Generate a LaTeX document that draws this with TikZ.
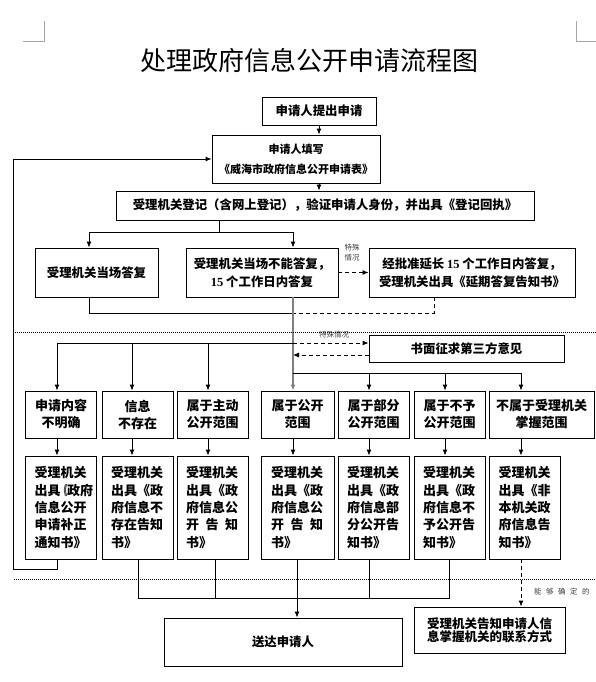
\documentclass[tikz,border=0pt]{standalone}
\usepackage{fontspec}
\usepackage{graphicx}
\newfontfamily\cjk{Noto Sans CJK SC}
\newfontfamily\numfont{Liberation Serif}
\usetikzlibrary{arrows.meta}
\tikzset{
  box/.style={draw=black, line width=0.9pt, inner sep=0pt, align=center, font=\cjk\bfseries\fontsize{12.4}{18}\selectfont},
  catbox/.style={box, minimum width=71, minimum height=47, font=\cjk\bfseries\fontsize{13}{17}\selectfont},
  resbox/.style={box, minimum width=71, minimum height=103, text width=53, align=left, font=\cjk\bfseries\fontsize{13}{17.3}\selectfont},
  titletext/.style={font=\cjk\fontsize{26}{30}\selectfont},
  smalllabel/.style={font=\cjk\fontsize{7.5}{10}\selectfont, text=black!75, inner sep=0pt},
  link/.style={draw=black, line width=0.9pt},
  arr/.style={link, -{Latex[length=6pt,width=5pt]}},
  dasharr/.style={arr, dash pattern=on 4pt off 3pt},
  mainline/.style={arr, draw=black!50, line width=1.4pt},
  sepline/.style={draw=black, line width=0.8pt, dash pattern=on 1pt off 1pt},
  cropmark/.style={draw=black!35, line width=0.8pt},
}

\begin{document}
\begin{tikzpicture}[x=1pt, y=-1pt]
\useasboundingbox (0,0) rectangle (596,682);
\node[titletext] (title) at (309,61) {处理政府信息公开申请流程图};
\node[box, minimum width=114, minimum height=28] (submit) at (319,111) {申请人提出申请};
\node[box, minimum width=168, minimum height=48, font=\cjk\bfseries\fontsize{11}{20}\selectfont] (fillform) at (296,159) {申请人填写\\《威海市政府信息公开申请表》};
\node[box, minimum width=418, minimum height=29] (register) at (325,205.5) {受理机关登记（含网上登记），验证申请人身份，并出具《登记回执》};
\node[box, minimum width=123, minimum height=49] (onsite) at (96.5,272.5) {受理机关当场答复};
\node[box, minimum width=152, minimum height=49] (later) at (262,272.5) {受理机关当场不能答复，\\{\numfont 15} 个工作日内答复};
\node[box, minimum width=206, minimum height=49] (extend) at (472,272.5) {经批准延长 {\numfont 15} 个工作日内答复，\\受理机关出具《延期答复告知书》};
\node[smalllabel, align=left] (special1) at (352,253) {特殊\\情况};
\node[box, minimum width=195, minimum height=27] (thirdparty) at (466.5,348.5) {书面征求第三方意见};
\node[smalllabel] (special2) at (334,335) {特殊情况};
\node[catbox] (cat1) at (61,414.5) {申请内容\\不明确};
\node[catbox] (cat2) at (137.5,414.5) {信息\\不存在};
\node[catbox] (cat3) at (212.5,414.5) {属于主动\\公开范围};
\node[catbox, minimum width=73] (cat4) at (297.5,414.5) {属于公开\\范围};
\node[catbox] (cat5) at (373.5,414.5) {属于部分\\公开范围};
\node[catbox] (cat6) at (449.5,414.5) {属于不予\\公开范围};
\node[catbox, minimum width=105] (cat7) at (541.5,414.5) {不属于受理机关\\掌握范围};
\node[resbox] (res1) at (61,507.5) {受理机关\\出具\scalebox{0.5}[1]{《}政府\\信息公开\\申请补正\\通知书》};
\node[resbox] (res2) at (137.5,507.5) {受理机关\\出具《政\\府信息不\\存在告知\\书》};
\node[resbox] (res3) at (212.5,507.5) {受理机关\\出具《政\\府信息公\\\makebox[4em][s]{开\hfill 告\hfill 知}\\书》};
\node[resbox, minimum width=73] (res4) at (297.5,507.5) {受理机关\\出具《政\\府信息公\\\makebox[4em][s]{开\hfill 告\hfill 知}\\书》};
\node[resbox] (res5) at (373.5,507.5) {受理机关\\出具《政\\府信息部\\分公开告\\知书》};
\node[resbox] (res6) at (449.5,507.5) {受理机关\\出具《政\\府信息不\\予公开告\\知书》};
\node[resbox] (res7) at (525,507.5) {受理机关\\出具《非\\本机关政\\府信息告\\知书》};
\node[box, minimum width=238, minimum height=48] (deliver) at (283,642) {送达申请人};
\node[box, minimum width=151, minimum height=46, font=\cjk\bfseries\fontsize{12.5}{13}\selectfont] (contact) at (489.5,630) {受理机关告知申请人信\\息掌握机关的联系方式};
\node[smalllabel, anchor=west] (known) at (534,592) {能\hspace{4.5pt}够\hspace{4.5pt}确\hspace{4.5pt}定\hspace{4.5pt}的};
\coordinate (fork) at (219,232);
\coordinate (left) at (89,232);
\coordinate (mid) at (293,232);
\coordinate (joinL) at (89,313);
\coordinate (joinM) at (293,313);
\coordinate (joinR) at (434,313);
\coordinate (back) at (293,355);
\coordinate (a1) at (57,343);
\coordinate (a2) at (132,343);
\coordinate (a3) at (208,343);
\coordinate (a4) at (293,343);
\coordinate (b4) at (293,373);
\coordinate (a5) at (369,373);
\coordinate (a6) at (445,373);
\coordinate (a7) at (521,373);
\coordinate (d2) at (138,598);
\coordinate (d3) at (215,598);
\coordinate (d4) at (297,598);
\coordinate (d5) at (369,598);
\coordinate (d6) at (449,598);
\coordinate (loopA) at (57,569);
\coordinate (loopB) at (13,569);
\draw[arr] (submit) -- (submit |- fillform.north);
\draw[arr] (fillform.south -| submit) -- (submit |- register.north);
\draw[link] (register.south -| fork) -- (fork);
\draw[link] (left) -- (mid);
\draw[arr] (left) -- (left |- onsite.north);
\draw[arr] (mid) -- (mid |- later.north);
\draw[dasharr] (later) -- (extend);
\draw[link] (onsite.south -| joinL) -- (joinL) -- (joinM);
\draw[link, dash pattern=on 4pt off 3pt] (extend.south -| joinR) -- (joinR) -- (joinM);
\draw[mainline] (later.south -| mid) -- (mid |- cat4.north);
\draw[sepline] (13,332) -- (596,332);
\draw[dasharr] (a4) -- (a4 -| thirdparty.west);
\draw[dasharr] (back -| thirdparty.west) -- (back);
\draw[link] (a1) -- (a4);
\draw[link] (b4) -- (a7);
\foreach \k in {1,2,3,5,6,7} \draw[arr] (a\k) -- (a\k |- cat\k.north);
\foreach \k in {1,...,6} \draw[arr] (cat\k.south -| a\k) -- (a\k |- res\k.north);
\draw[arr] (cat7.south -| a7) -- (a7 |- res7.north);
\draw[arr] (res1.south -| loopA) -- (loopA) -- (loopB) |- (fillform.west);
\draw[link] (res2.south -| d2) -- (d2) -- (d6) -- (res6.south -| d6);
\draw[link] (res3.south -| d3) -- (d3);
\draw[link] (res5.south -| d5) -- (d5);
\draw[arr] (res4.south -| d4) -- (d4 |- deliver.north);
\draw[dasharr] (res7.south -| a7) -- (a7 |- contact.north);
\draw[sepline] (14,579) -- (596,579);
\draw[cropmark] (23,41) -- (44,41) -- (44,21);
\draw[cropmark] (596,41) -- (576,41) -- (576,21);
\end{tikzpicture}
\end{document}
